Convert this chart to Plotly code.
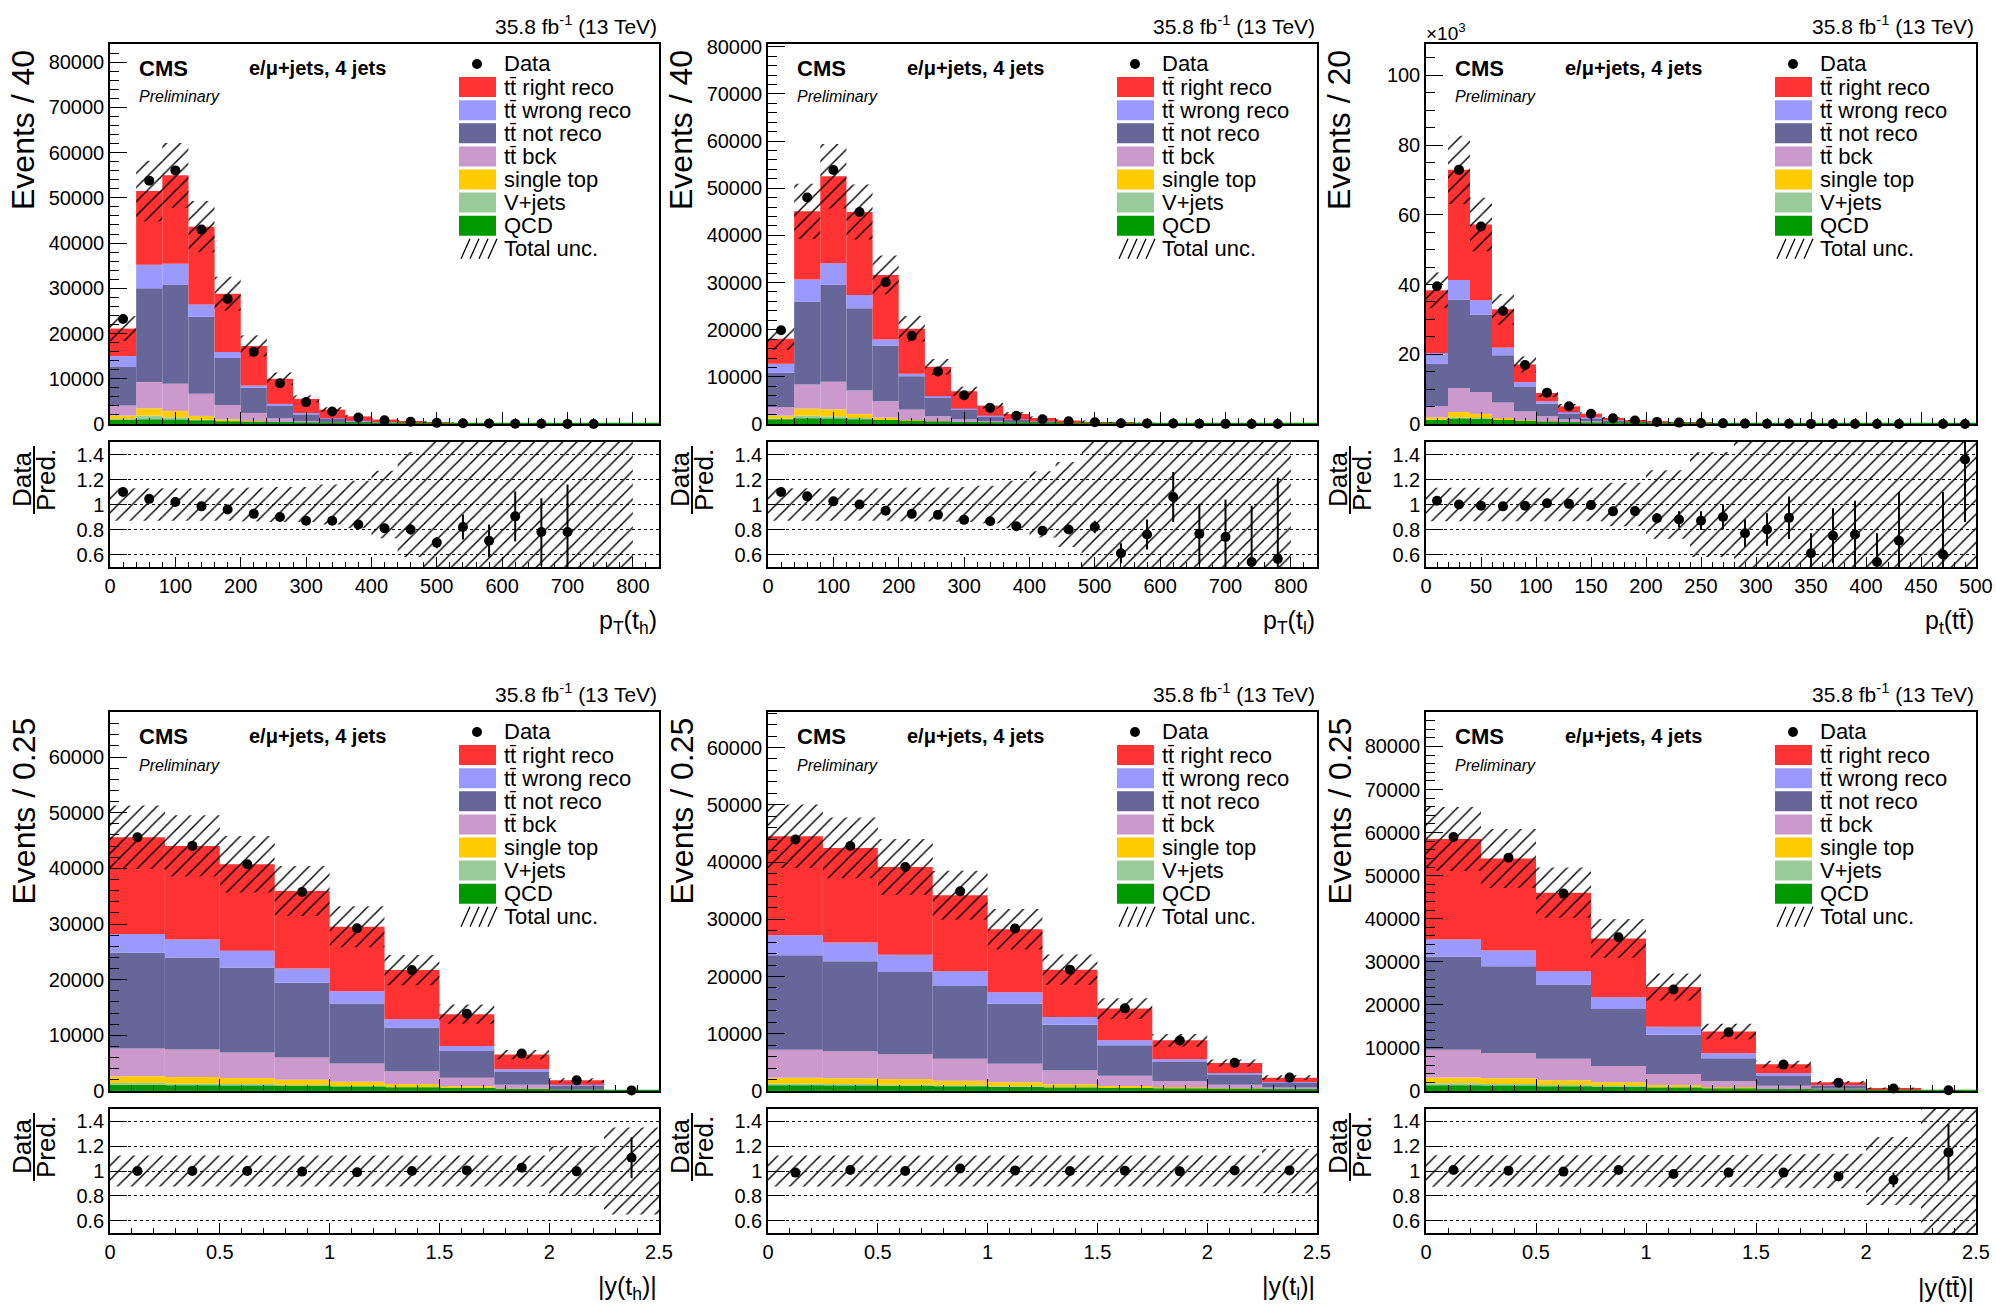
import numpy as np
import plotly.graph_objects as go

W, H = 1996, 1309
FONT = "Liberation Sans, Arial, sans-serif"

# stacking order, bottom to top
PROCESSES = ["qcd", "vjets", "stop", "ttbck", "ttnot", "ttwrong", "ttright"]
COLORS = {
    "ttright": "#FF3333",
    "ttwrong": "#9999FF",
    "ttnot": "#666699",
    "ttbck": "#CC99CC",
    "stop": "#FFCC00",
    "vjets": "#99CC99",
    "qcd": "#009900",
}
LEGEND_LABELS = ["Data", "tt\u0304 right reco", "tt\u0304 wrong reco", "tt\u0304 not reco",
                 "tt\u0304 bck", "single top", "V+jets", "QCD", "Total unc."]
LEGEND_KEYS = [None, "ttright", "ttwrong", "ttnot", "ttbck", "stop", "vjets", "qcd", "unc"]

# ---------------- pT(t_h), bins of 40 GeV ----------------
pt_th_edges = list(range(0, 841, 40))
pt_th_ttright = [6100, 16280, 19560, 17190, 12880, 8740, 5560, 3120, 1930, 1000, 585, 351, 213, 129, 75, 47, 30, 16, 12, 7, 0]
pt_th_ttwrong = [2400, 5200, 4660, 2740, 1340, 520, 370, 290, 150, 100, 60, 35, 20, 12, 7, 4, 3, 2, 1, 0.6, 0]
pt_th_ttnot = [8500, 20740, 21850, 17030, 10370, 5560, 2810, 1480, 740, 400, 230, 140, 80, 50, 30, 18, 11, 7, 4, 2.5, 0]
pt_th_ttbck = [2250, 5780, 6000, 4890, 3180, 1770, 890, 450, 220, 120, 70, 40, 25, 15, 9, 5, 3, 2, 1, 0.8, 0]
pt_th_stop = [750, 1630, 1410, 820, 520, 300, 150, 70, 50, 30, 20, 12, 8, 5, 3, 2, 1, 1, 0.5, 0.3, 0]
pt_th_vjets = [500, 1110, 810, 440, 220, 150, 70, 80, 50, 20, 15, 10, 6, 4, 3, 2, 1, 1, 0.5, 0.3, 0]
pt_th_qcd = [600, 740, 670, 520, 300, 220, 150, 70, 50, 30, 20, 12, 8, 5, 3, 2, 1, 1, 0.5, 0.3, 0]
pt_th_ratio = [1.10, 1.045, 1.02, 0.985, 0.96, 0.925, 0.90, 0.87, 0.87, 0.84, 0.81, 0.80, 0.695, 0.82,
               0.71, 0.905, 0.78, 0.78, 0.30, None, None]
pt_th_ratio_err = [0.008, 0.006, 0.006, 0.007, 0.008, 0.01, 0.012, 0.015, 0.02, 0.025, 0.03, 0.04, 0.045,
                   0.1, 0.13, 0.2, 0.27, 0.38, 0.1, None, None]
pt_th_unc = [0.13, 0.13, 0.13, 0.13, 0.13, 0.135, 0.14, 0.14, 0.16, 0.19, 0.27, 0.42, 0.7, 0.7, 0.7,
             0.7, 0.7, 0.7, 0.7, 0.7, None]

# ---------------- pT(t_l), bins of 40 GeV ----------------
pt_tl_edges = list(range(0, 841, 40))
pt_tl_ttright = [5310, 14460, 18440, 17580, 13690, 9570, 6240, 3690, 2130, 1180, 720, 420, 250, 155, 94, 55, 33, 22, 14, 8.5, 0]
pt_tl_ttwrong = [1920, 4750, 4610, 2840, 1270, 500, 360, 280, 210, 100, 60, 35, 21, 13, 8, 5, 3, 2, 1, 0.7, 0]
pt_tl_ttnot = [7300, 17520, 20560, 17450, 11850, 7090, 3900, 1990, 920, 500, 300, 175, 105, 65, 40, 23, 14, 9, 6, 3.5, 0]
pt_tl_ttbck = [1780, 5110, 5820, 4960, 3470, 2200, 1130, 640, 390, 200, 110, 65, 40, 25, 15, 9, 5, 4, 2, 1.2, 0]
pt_tl_stop = [640, 1490, 1490, 850, 500, 280, 150, 100, 80, 50, 30, 18, 11, 7, 4, 2, 2, 1, 0.5, 0.3, 0]
pt_tl_vjets = [420, 850, 780, 570, 280, 140, 70, 100, 70, 40, 20, 12, 8, 5, 3, 2, 1, 1, 0.5, 0.3, 0]
pt_tl_qcd = [710, 920, 850, 710, 570, 430, 280, 150, 100, 60, 40, 25, 15, 10, 6, 4, 2, 1, 1, 0.5, 0]
pt_tl_ratio = [1.10, 1.065, 1.025, 1.0, 0.95, 0.925, 0.917, 0.877, 0.866, 0.826, 0.79, 0.80, 0.82, 0.61,
               0.76, 1.06, 0.765, 0.74, 0.54, 0.565, None]
pt_tl_ratio_err = [0.008, 0.006, 0.006, 0.006, 0.008, 0.01, 0.012, 0.015, 0.02, 0.025, 0.03, 0.035, 0.05,
                   0.08, 0.12, 0.2, 0.24, 0.3, 0.45, 0.65, None]
pt_tl_unc = [0.13, 0.13, 0.13, 0.13, 0.13, 0.135, 0.135, 0.14, 0.15, 0.19, 0.265, 0.34, 0.7, 0.7, 0.7,
             0.7, 0.7, 0.7, 0.7, 0.7, None]

# ---------------- pt(tt), bins of 20 GeV, in 10^3 events ----------------
pt_tt_edges = list(range(0, 501, 20))
pt_tt_ttright = [17.95, 31.6, 21.7, 11.0, 5.1, 2.4, 1.72, 1.07, 0.63, 0.37, 0.23, 0.15, 0.095, 0.065, 0.045,
                 0.032, 0.022, 0.016, 0.010, 0.007, 0.0055, 0.004, 0.003, 0.002, 0.0015]
pt_tt_ttwrong = [3.14, 5.7, 4.1, 2.15, 1.2, 0.65, 0.39, 0.2, 0.1, 0.06, 0.04, 0.03, 0.02, 0.015, 0.01,
                 0.007, 0.005, 0.004, 0.003, 0.002, 0.0015, 0.001, 0.001, 0.0007, 0.0005]
pt_tt_ttnot = [12.18, 25.25, 22.2, 13.55, 7.2, 3.65, 1.63, 0.9, 0.52, 0.32, 0.21, 0.14, 0.09, 0.06, 0.042,
               0.03, 0.021, 0.015, 0.011, 0.008, 0.0055, 0.004, 0.003, 0.002, 0.0015]
pt_tt_ttbck = [3.16, 6.9, 6.3, 4.5, 2.55, 1.53, 0.94, 0.55, 0.33, 0.2, 0.13, 0.09, 0.06, 0.04, 0.028,
               0.02, 0.014, 0.01, 0.007, 0.005, 0.0035, 0.0025, 0.002, 0.0015, 0.001]
pt_tt_stop = [0.67, 1.55, 1.2, 0.55, 0.38, 0.22, 0.12, 0.08, 0.05, 0.03, 0.02, 0.01, 0.01, 0.005, 0.004,
              0.003, 0.002, 0.001, 0.001, 0.001, 0.0005, 0.0005, 0.0004, 0.0003, 0.0002]
pt_tt_vjets = [0.48, 0.75, 0.65, 0.38, 0.19, 0.15, 0.1, 0.07, 0.04, 0.03, 0.02, 0.01, 0.01, 0.005, 0.004,
               0.003, 0.002, 0.001, 0.001, 0.001, 0.0005, 0.0005, 0.0004, 0.0003, 0.0002]
pt_tt_qcd = [0.77, 1.15, 1.05, 0.77, 0.48, 0.3, 0.18, 0.1, 0.06, 0.04, 0.03, 0.02, 0.015, 0.01, 0.007,
             0.005, 0.004, 0.003, 0.002, 0.001, 0.001, 0.001, 0.0007, 0.0005, 0.0004]
pt_tt_ratio = [1.03, 1.0, 0.99, 0.985, 0.99, 1.01, 1.005, 0.995, 0.945, 0.947, 0.89, 0.88, 0.87, 0.90,
               0.77, 0.80, 0.893, 0.61, 0.75, 0.76, 0.54, 0.71, None, 0.60, 1.36]
pt_tt_ratio_err = [0.005, 0.004, 0.004, 0.005, 0.007, 0.01, 0.013, 0.017, 0.022, 0.028, 0.04, 0.065, 0.075,
                   0.1, 0.11, 0.13, 0.17, 0.16, 0.22, 0.27, 0.23, 0.39, None, 0.5, 0.5]
pt_tt_unc = [0.134, 0.134, 0.134, 0.134, 0.134, 0.134, 0.134, 0.134, 0.175, 0.175, 0.275, 0.275, 0.42,
             0.42, 0.8, 0.8, 0.8, 0.8, 0.8, 0.8, 0.8, 0.8, 0.8, 0.8, 0.8]

# ---------------- |y(t_h)|, bins of 0.25 ----------------
y_th_edges = [0, 0.25, 0.5, 0.75, 1.0, 1.25, 1.5, 1.75, 2.0, 2.25, 2.5]
y_th_ttright = [17400, 16800, 15540, 13920, 11580, 8820, 5700, 2640, 780, 40]
y_th_ttwrong = [3360, 3240, 3000, 2580, 2220, 1500, 900, 480, 180, 10]
y_th_ttnot = [17220, 16560, 15300, 13440, 10800, 7860, 4800, 2280, 600, 30]
y_th_ttbck = [4980, 4920, 4560, 3960, 3240, 2280, 1560, 720, 230, 12]
y_th_stop = [1200, 1200, 1080, 960, 780, 540, 360, 180, 50, 4]
y_th_vjets = [600, 540, 540, 420, 360, 300, 180, 120, 40, 2]
y_th_qcd = [840, 780, 720, 660, 540, 420, 300, 120, 40, 2]
y_th_ratio = [1.0, 1.0, 1.0, 0.995, 0.99, 1.0, 1.005, 1.027, 0.997, 1.107]
y_th_ratio_err = [0.005, 0.005, 0.005, 0.006, 0.006, 0.007, 0.009, 0.013, 0.025, 0.165]
y_th_unc = [0.125, 0.125, 0.125, 0.125, 0.125, 0.125, 0.125, 0.125, 0.2, 0.35]

# ---------------- |y(t_l)|, bins of 0.25 ----------------
y_tl_edges = [0, 0.25, 0.5, 0.75, 1.0, 1.25, 1.5, 1.75, 2.0, 2.25, 2.5]
y_tl_ttright = [17300, 16540, 15320, 13280, 11010, 8270, 5540, 3320, 1740, 760]
y_tl_ttwrong = [3490, 3260, 3020, 2560, 1980, 1340, 870, 460, 240, 170]
y_tl_ttnot = [16490, 15730, 14390, 12700, 10480, 7980, 5300, 3320, 1800, 760]
y_tl_ttbck = [4890, 4720, 4310, 3840, 3270, 2450, 1810, 1110, 640, 290]
y_tl_stop = [1050, 990, 990, 820, 690, 520, 350, 230, 180, 120]
y_tl_vjets = [520, 520, 470, 410, 350, 290, 230, 180, 120, 110]
y_tl_qcd = [760, 700, 640, 580, 470, 350, 290, 230, 170, 120]
y_tl_ratio = [0.987, 1.008, 1.0, 1.02, 1.005, 1.0, 1.003, 0.997, 1.005, 1.005]
y_tl_ratio_err = [0.005, 0.005, 0.005, 0.006, 0.006, 0.007, 0.009, 0.011, 0.015, 0.02]
y_tl_unc = [0.125, 0.125, 0.125, 0.125, 0.125, 0.125, 0.125, 0.125, 0.125, 0.18]

# ---------------- |y(tt)|, bins of 0.25 ----------------
y_tt_edges = [0, 0.25, 0.5, 0.75, 1.0, 1.25, 1.5, 1.75, 2.0, 2.25, 2.5]
y_tt_ttright = [23300, 21360, 18250, 13670, 9250, 5050, 2090, 700, 190, 43]
y_tt_ttwrong = [4040, 3650, 3110, 2720, 1860, 1170, 620, 150, 50, 12]
y_tt_ttnot = [21600, 20190, 17240, 13200, 9090, 5280, 2260, 630, 200, 50]
y_tt_ttbck = [6440, 5830, 4970, 3810, 2560, 1480, 770, 340, 110, 28]
y_tt_stop = [1320, 1320, 1090, 850, 550, 310, 160, 70, 25, 6]
y_tt_vjets = [780, 700, 620, 550, 380, 230, 150, 60, 20, 5]
y_tt_qcd = [1010, 930, 780, 620, 470, 310, 160, 70, 25, 6]
y_tt_ratio = [1.008, 1.003, 0.995, 1.008, 0.976, 0.987, 0.987, 0.955, 0.928, 1.15]
y_tt_ratio_err = [0.004, 0.004, 0.005, 0.005, 0.006, 0.009, 0.013, 0.022, 0.06, 0.225]
y_tt_unc = [0.127, 0.127, 0.127, 0.127, 0.13, 0.13, 0.135, 0.14, 0.275, 0.6]


def stack(prefix):
    g = globals()
    return {p: np.array(g[f"{prefix}_{p}"], dtype=float) for p in PROCESSES}


PANELS = [
    dict(edges=pt_th_edges, comps=stack("pt_th"), ratio=pt_th_ratio, rerr=pt_th_ratio_err, unc=pt_th_unc,
         ymax=84000, ydtick=10000, yminor=2000, xmax=840, xdtick=100, xminor=20,
         ytitle="Events / 40", xtitle="p<sub>T</sub>(t<sub>h</sub>)", row=0, col=0),
    dict(edges=pt_tl_edges, comps=stack("pt_tl"), ratio=pt_tl_ratio, rerr=pt_tl_ratio_err, unc=pt_tl_unc,
         ymax=80600, ydtick=10000, yminor=2000, xmax=840, xdtick=100, xminor=20,
         ytitle="Events / 40", xtitle="p<sub>T</sub>(t<sub>l</sub>)", row=0, col=1),
    dict(edges=pt_tt_edges, comps=stack("pt_tt"), ratio=pt_tt_ratio, rerr=pt_tt_ratio_err, unc=pt_tt_unc,
         ymax=109, ydtick=20, yminor=5, xmax=500, xdtick=50, xminor=10,
         ytitle="Events / 20", xtitle="p<sub>t</sub>(tt\u0304)", row=0, col=2, scale="\u00d710<sup>3</sup>"),
    dict(edges=y_th_edges, comps=stack("y_th"), ratio=y_th_ratio, rerr=y_th_ratio_err, unc=y_th_unc,
         ymax=68100, ydtick=10000, yminor=2000, xmax=2.5, xdtick=0.5, xminor=0.1,
         ytitle="Events / 0.25", xtitle="|y(t<sub>h</sub>)|", row=1, col=0),
    dict(edges=y_tl_edges, comps=stack("y_tl"), ratio=y_tl_ratio, rerr=y_tl_ratio_err, unc=y_tl_unc,
         ymax=66200, ydtick=10000, yminor=2000, xmax=2.5, xdtick=0.5, xminor=0.1,
         ytitle="Events / 0.25", xtitle="|y(t<sub>l</sub>)|", row=1, col=1),
    dict(edges=y_tt_edges, comps=stack("y_tt"), ratio=y_tt_ratio, rerr=y_tt_ratio_err, unc=y_tt_unc,
         ymax=88000, ydtick=10000, yminor=2000, xmax=2.5, xdtick=0.5, xminor=0.1,
         ytitle="Events / 0.25", xtitle="|y(tt\u0304)|", row=1, col=2),
]

# frame geometry in pixels
COLS = [(110, 659), (768, 1317), (1426, 1976)]
ROWS = [dict(main=(44, 424), ratio=(442, 567)), dict(main=(712, 1091), ratio=(1109, 1233))]


def fx(p):
    return p / W


def fy(p):
    return 1 - p / H


HATCH = dict(shape="/", fgcolor="black", bgcolor="rgba(0,0,0,0)", fgopacity=1, size=10, solidity=0.14,
             fillmode="overlay")

fig = go.Figure()
layout = dict(width=W, height=H, margin=dict(l=0, r=0, t=0, b=0, autoexpand=False), paper_bgcolor="white",
              plot_bgcolor="white", barmode="overlay", showlegend=False)
annotations, shapes = [], []


def text(t, x, y, size, xanchor="left", yanchor="middle", angle=0):
    annotations.append(dict(text=t, x=fx(x), y=fy(y), xref="paper", yref="paper", xanchor=xanchor,
                            yanchor=yanchor, textangle=angle, showarrow=False,
                            font=dict(family=FONT, size=size, color="black")))


for k, pnl in enumerate(PANELS):
    im, ir = 2 * k + 1, 2 * k + 2
    xm, ym = ("x", "y") if im == 1 else (f"x{im}", f"y{im}")
    xr, yr = f"x{ir}", f"y{ir}"
    L, R = COLS[pnl["col"]]
    mt, mb = ROWS[pnl["row"]]["main"]
    rt, rb = ROWS[pnl["row"]]["ratio"]

    edges = np.array(pnl["edges"], dtype=float)
    centers = 0.5 * (edges[1:] + edges[:-1])
    widths = np.diff(edges)
    comps = pnl["comps"]
    ratio = np.array(pnl["ratio"], dtype=float)
    rerr = np.array(pnl["rerr"], dtype=float)
    unc = np.array(pnl["unc"], dtype=float)

    # stacked predictions
    base = np.zeros_like(centers)
    for p in PROCESSES:
        fig.add_trace(go.Bar(x=centers, y=comps[p], base=base.copy(), width=widths,
                             marker=dict(color=COLORS[p], line=dict(width=0)),
                             xaxis=xm, yaxis=ym, hoverinfo="skip"))
        if p == "qcd":
            qcd_top = base + comps[p]
        base = base + comps[p]
    total = base

    # QCD outline running along the bottom
    fig.add_trace(go.Scatter(x=edges, y=np.append(qcd_top, qcd_top[-1]), mode="lines",
                             line=dict(color=COLORS["qcd"], width=2.5, shape="hv"),
                             xaxis=xm, yaxis=ym, hoverinfo="skip"))

    # total uncertainty band
    ok = ~np.isnan(unc)
    fig.add_trace(go.Bar(x=centers[ok], y=2 * unc[ok] * total[ok], base=total[ok] * (1 - unc[ok]),
                         width=widths[ok], marker=dict(color="rgba(0,0,0,0)", line=dict(width=0), pattern=HATCH),
                         xaxis=xm, yaxis=ym, hoverinfo="skip"))

    # data
    okd = ~np.isnan(ratio)
    fig.add_trace(go.Scatter(x=centers[okd], y=ratio[okd] * total[okd], mode="markers",
                             marker=dict(color="black", size=10),
                             error_y=dict(type="data", array=rerr[okd] * total[okd], color="black",
                                          thickness=2, width=0),
                             cliponaxis=False, xaxis=xm, yaxis=ym))

    # ratio panel
    fig.add_trace(go.Bar(x=centers[ok], y=2 * unc[ok], base=1 - unc[ok], width=widths[ok],
                         marker=dict(color="rgba(0,0,0,0)", line=dict(width=0), pattern=HATCH),
                         xaxis=xr, yaxis=yr, hoverinfo="skip"))
    fig.add_trace(go.Scatter(x=centers[okd], y=ratio[okd], mode="markers",
                             marker=dict(color="black", size=10),
                             error_y=dict(type="data", array=rerr[okd], color="black", thickness=2, width=0),
                             xaxis=xr, yaxis=yr))

    xdom = [fx(L), fx(R)]
    common = dict(showline=True, linecolor="black", linewidth=1.5, mirror=True, zeroline=False,
                  automargin=False, ticks="inside", tickcolor="black",
                  tickfont=dict(family=FONT, size=20, color="black"))
    xticks = dict(range=[0, pnl["xmax"]], dtick=pnl["xdtick"], tick0=0,
                  minor=dict(ticks="inside", dtick=pnl["xminor"], tickcolor="black", ticklen=6))
    layout[f"xaxis{'' if im == 1 else im}"] = dict(domain=xdom, anchor=ym, showticklabels=False, showgrid=False,
                                                   ticklen=12, **xticks, **common)
    layout[f"yaxis{'' if im == 1 else im}"] = dict(domain=[fy(mb), fy(mt)], anchor=xm, range=[0, pnl["ymax"]],
                                                   dtick=pnl["ydtick"], tick0=0, showgrid=False, ticklen=17,
                                                   tickformat="d",
                                                   minor=dict(ticks="inside", dtick=pnl["yminor"],
                                                              tickcolor="black", ticklen=9),
                                                   **common)
    xr_ticks = dict(xticks)
    xr_ticks["minor"] = dict(ticks="inside", dtick=pnl["xminor"], tickcolor="black", ticklen=5)
    layout[f"xaxis{ir}"] = dict(domain=xdom, anchor=yr, showgrid=False, ticklen=10, **xr_ticks, **common)
    layout[f"yaxis{ir}"] = dict(domain=[fy(rb), fy(rt)], anchor=xr, range=[0.5, 1.5],
                                tickvals=[0.6, 0.8, 1.0, 1.2, 1.4], ticktext=["0.6", "0.8", "1", "1.2", "1.4"],
                                showgrid=True, gridcolor="black", griddash="dot", gridwidth=1, ticklen=17,
                                **common)

    # header texts
    text("35.8 fb<sup>-1</sup> (13 TeV)", R, mt - 19, 21, xanchor="right")
    text("<b>CMS</b>", L + 27, mt + 24, 22)
    text("<i>Preliminary</i>", L + 27, mt + 53, 16)
    text("<b>e/\u03bc+jets, 4 jets</b>", L + 137, mt + 24, 20)
    if pnl.get("scale"):
        text(pnl["scale"], L - 2, mt - 12, 19)

    # axis titles
    text(pnl["ytitle"], L - 87, mt + 4, 32, xanchor="center", yanchor="top", angle=-90)
    text(pnl["xtitle"], R, rb + 55, 25, xanchor="right")
    ry = rt + 38
    text("Data", L - 88, ry, 26, xanchor="center", angle=-90)
    text("Pred.", L - 64, ry, 26, xanchor="center", angle=-90)
    shapes.append(dict(type="line", xref="paper", yref="paper", x0=fx(L - 76), x1=fx(L - 76),
                       y0=fy(rt + 4), y1=fy(rt + 72), line=dict(color="black", width=2)))

    # legend
    for i, (lab, key) in enumerate(zip(LEGEND_LABELS, LEGEND_KEYS)):
        yc = mt + 20 + 23.1 * i
        bx0, bx1 = L + 349, L + 386
        if key is None:
            shapes.append(dict(type="circle", xref="paper", yref="paper", x0=fx(L + 362), x1=fx(L + 372),
                               y0=fy(yc + 5), y1=fy(yc - 5), fillcolor="black", line=dict(width=0)))
        elif key == "unc":
            path = ""
            for j in range(4):
                xa = bx0 + 2 + 9 * j
                path += f"M{fx(xa)},{fy(yc + 10)} L{fx(xa + 9)},{fy(yc - 10)} "
            shapes.append(dict(type="path", xref="paper", yref="paper", path=path,
                               line=dict(color="black", width=1.3)))
        else:
            shapes.append(dict(type="rect", xref="paper", yref="paper", x0=fx(bx0), x1=fx(bx1),
                               y0=fy(yc + 10), y1=fy(yc - 10), fillcolor=COLORS[key], line=dict(width=0)))
        text(lab, L + 392, yc, 22)

layout["annotations"] = annotations
layout["shapes"] = shapes
fig.update_layout(**layout)
fig.write_html("out.html")
